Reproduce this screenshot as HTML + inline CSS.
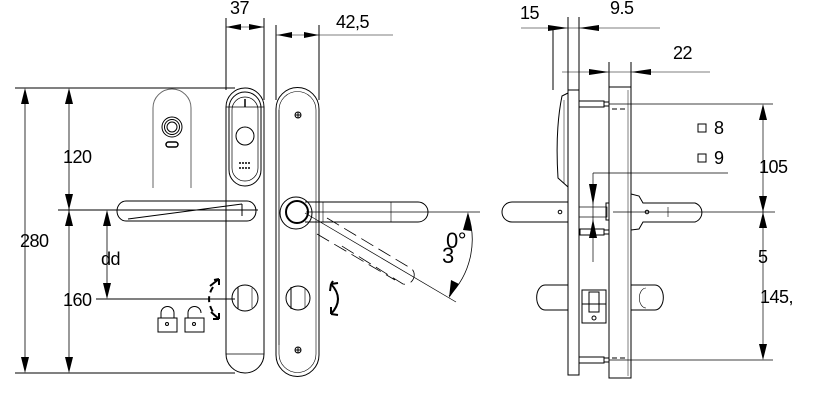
<!DOCTYPE html>
<html><head><meta charset="utf-8"><style>
html,body{margin:0;padding:0;background:#fff;}
svg{display:block;}
text{font-family:"Liberation Sans",Arial,sans-serif;fill:#000;}
</style></head><body>
<svg width="817" height="402" viewBox="0 0 817 402" xmlns="http://www.w3.org/2000/svg">
<g stroke="#000" stroke-width="1" fill="none">
<!-- left dims -->
<line x1="15" y1="88" x2="235" y2="88"/>
<line x1="15" y1="373" x2="235" y2="373"/>
<line x1="25" y1="90" x2="25" y2="371" stroke-width="0.8"/>
<line x1="69" y1="90" x2="69" y2="371" stroke-width="0.8"/>
<line x1="58" y1="210" x2="258" y2="210"/>
<line x1="107" y1="212" x2="107" y2="297" stroke-width="0.8"/>
<line x1="96" y1="299" x2="235" y2="299"/>
<!-- faded escutcheon -->
<path d="M153,188 V108 A18,18 0 0 1 191,108 V188" stroke="#666"/>
<circle cx="172" cy="127" r="10"/><circle cx="172" cy="127" r="7.5"/><circle cx="172" cy="127" r="5"/>
<rect x="166" y="142" width="12" height="5" rx="2.5" stroke-width="1.5"/>
<!-- plate 1 -->
<path d="M226,107 A19,19 0 0 1 264,107 V354 A19,19 0 0 1 226,354 Z"/>
<path d="M229,108 A16,16 0 0 1 261,108 V170 A16,16 0 0 1 229,170 Z"/>
<path d="M232,110 A13,13 0 0 1 258,110 V168 A13,13 0 0 1 232,168 Z" stroke-width="0.7"/>
<line x1="226" y1="107" x2="264" y2="107" stroke-width="0.7"/>
<line x1="226" y1="354" x2="264" y2="354" stroke-width="0.7"/>
<line x1="245" y1="99" x2="245" y2="107" stroke-width="1.5"/>
<circle cx="245" cy="136" r="9"/>
<line x1="239" y1="163" x2="251" y2="163" stroke-width="1.5" stroke-dasharray="2 1"/>
<line x1="239" y1="168" x2="251" y2="168" stroke-width="1.5" stroke-dasharray="2 1"/>
<!-- dim 37 -->
<line x1="226" y1="18" x2="226" y2="90"/>
<line x1="264" y1="18" x2="264" y2="100"/>
<line x1="226" y1="27" x2="264" y2="27" stroke-width="0.6"/>
<!-- handle 1 -->
<path d="M126,201 H247 A9,10 0 0 1 247,221 H126 A9,10 0 0 1 126,201 Z"/>
<line x1="128" y1="219" x2="242" y2="204"/>
<line x1="242" y1="204" x2="242" y2="216"/>
<!-- thumb turn 1 -->
<circle cx="245" cy="298" r="13"/>
<line x1="238" y1="287" x2="238" y2="309"/>
<line x1="252" y1="288" x2="252" y2="308" stroke-width="0.6"/>
<path d="M213,287 Q205,299 213,312" stroke-width="2" stroke-dasharray="6 4"/>
<path d="M210,286 L219,279 M219,279 L214,280 M219,279 L219,285" stroke-width="2"/>
<path d="M211,312 L219,319 M219,319 L219,313 M219,319 L213,319" stroke-width="2"/>
<!-- padlocks -->
<rect x="158" y="318" width="19" height="14"/><path d="M161,318 V313 A6,6 0 0 1 174,313 V318"/>
<rect x="185" y="318" width="19" height="14"/><path d="M188,318 V313 A6,6 0 0 1 201,313"/>
<circle cx="167" cy="324" r="1.5"/><circle cx="194" cy="324" r="1.5"/>
<!-- plate 2 -->
<path d="M276,109 A21,21 0 0 1 319,109 V355 A21,21 0 0 1 276,355 Z"/>
<path d="M279,110 A18,18 0 0 1 316,110 V354 A18,18 0 0 1 279,354 Z" stroke-width="0.6"/>
<line x1="279" y1="110" x2="279" y2="345" stroke-width="0.6"/>
<circle cx="298" cy="115" r="3"/><line x1="295" y1="115" x2="301" y2="115"/><line x1="298" y1="112" x2="298" y2="118"/>
<circle cx="298" cy="350" r="3"/><line x1="295" y1="350" x2="301" y2="350"/><line x1="298" y1="347" x2="298" y2="353"/>
<!-- dim 42,5 -->
<line x1="276" y1="25" x2="276" y2="100"/>
<line x1="319" y1="25" x2="319" y2="100"/>
<line x1="276" y1="35" x2="393" y2="35" stroke-width="0.6"/>
<!-- handle 2 -->
<circle cx="296" cy="213" r="16"/>
<circle cx="297" cy="212" r="11" stroke-width="2"/>
<path d="M305,202 H418 A10,10 0 0 1 418,222 H305"/>
<line x1="323" y1="202" x2="323" y2="222" stroke-width="0.6"/>
<line x1="391" y1="202" x2="391" y2="222" stroke-width="0.6"/>
<line x1="306" y1="212" x2="480" y2="212" stroke-width="0.7"/>
<line x1="305" y1="213" x2="456" y2="302" stroke-width="0.7"/>
<path d="M327,218 L407,266 A6,6 0 0 1 403,284 L337,243 M317,234 L395,280" stroke-dasharray="14 6" stroke-width="0.8"/>
<path d="M468,214 A80,80 0 0 1 449,296" stroke-width="0.8"/>
<circle cx="298" cy="298" r="12"/>
<line x1="291" y1="287" x2="291" y2="309"/>
<line x1="305" y1="288" x2="305" y2="308" stroke-width="0.6"/>
<path d="M331,284 Q345,299 331,314" stroke-width="2"/>
<path d="M331,284 L333,281 M331,284 L338,283 M331,284 L330,291" stroke-width="2"/>
<path d="M331,314 L338,315 M331,314 L331,307" stroke-width="2"/>

<!-- RIGHT VIEW -->
<line x1="568" y1="17" x2="568" y2="92"/>
<line x1="579" y1="17" x2="579" y2="92"/>
<line x1="521" y1="28" x2="660" y2="28" stroke-width="0.6"/>
<line x1="553" y1="28" x2="553" y2="90"/>
<line x1="562" y1="72" x2="710" y2="72" stroke-width="0.6"/>
<line x1="609" y1="62" x2="609" y2="90"/>
<line x1="631" y1="62" x2="631" y2="90"/>
<rect x="568" y="90" width="11" height="285"/>
<path d="M568,93 L562,96 Q555,130 558,178 L568,187"/>
<line x1="564" y1="100" x2="564" y2="183" stroke-width="0.5"/>
<rect x="609" y="87" width="22" height="291"/>
<line x1="628" y1="90" x2="628" y2="376" stroke-width="0.5"/>
<line x1="612" y1="109" x2="626" y2="109" stroke-dasharray="5 3"/>
<line x1="612" y1="358" x2="626" y2="358" stroke-dasharray="5 3"/>
<rect x="579" y="101" width="25" height="6"/><rect x="604" y="102" width="5" height="4"/>
<rect x="579" y="357" width="25" height="6"/><rect x="604" y="358" width="5" height="4"/>
<rect x="580" y="229" width="24" height="6"/><rect x="604" y="230" width="5" height="4"/>
<line x1="609" y1="104" x2="773" y2="104" stroke-width="0.7"/>
<line x1="609" y1="360" x2="773" y2="360" stroke-width="0.7"/>
<line x1="763" y1="106" x2="763" y2="358" stroke-width="0.7"/>
<line x1="613" y1="212" x2="775" y2="212" stroke-width="0.7"/>
<line x1="593" y1="173" x2="728" y2="173" stroke-width="0.7"/>
<line x1="593" y1="173" x2="593" y2="262" stroke-width="0.7"/>
<path d="M568,202 H512 A10,10 0 0 0 512,222 H568"/>
<circle cx="560" cy="212" r="1.8"/>
<rect x="579" y="207" width="28" height="10" stroke-width="0.7"/>
<rect x="606" y="203" width="3" height="17"/>
<path d="M631,194 L639,196 L643,203 H695 A10,10 0 0 1 695,222 H643 L639,229 L631,230"/>
<circle cx="647" cy="212" r="1.8"/>
<line x1="668" y1="207" x2="668" y2="217" stroke-width="0.6"/>
<path d="M568,285 H545 A8,12 0 0 0 545,310 H568"/>
<path d="M631,285 H655 A8,12 0 0 1 655,310 H631"/>
<path d="M646,288 A6,9 0 0 0 646,308" stroke-width="0.6"/>
<rect x="582" y="290" width="24" height="14"/>
<rect x="582" y="304" width="24" height="19"/>
<rect x="589" y="292" width="10" height="20"/>
<circle cx="594" cy="318" r="2"/>
<rect x="698" y="124" width="8" height="8"/>
<rect x="698" y="154" width="8" height="8"/>
</g>
<!-- arrowheads -->
<g fill="#000" stroke="none">
<path d="M25,88 L21,104 L29,104 Z"/><path d="M25,373 L21,357 L29,357 Z"/>
<path d="M69,88 L65,104 L73,104 Z"/><path d="M69,210 L65,194 L73,194 Z"/>
<path d="M69,210 L65,226 L73,226 Z"/><path d="M69,373 L65,357 L73,357 Z"/>
<path d="M107,210 L103,226 L111,226 Z"/><path d="M107,299 L103,283 L111,283 Z"/>
<path d="M226,27 L241,24 L241,30 Z"/><path d="M264,27 L249,24 L249,30 Z"/>
<path d="M277,35 L292,32 L292,38 Z"/><path d="M319,35 L304,32 L304,38 Z"/>
<path d="M468,212 L463,230 L472,231 Z"/>
<path d="M449,298 L451,280 L459,284 Z"/>
<path d="M568,28 L548,25 L548,31 Z"/><path d="M579,28 L599,25 L599,31 Z"/>
<path d="M609,72 L589,69 L589,75 Z"/><path d="M631,72 L651,69 L651,75 Z"/>
<path d="M763,104 L759,120 L767,120 Z"/><path d="M763,212 L759,196 L767,196 Z"/>
<path d="M763,212 L759,228 L767,228 Z"/><path d="M763,360 L759,344 L767,344 Z"/>
<path d="M589,184 L597,184 L593,205 Z"/>
<path d="M589,238 L597,238 L593,219 Z"/>
</g>
<g font-size="18" letter-spacing="-0.5">
<text x="230" y="14">37</text>
<text x="336" y="28">42,5</text>
<text x="63" y="163">120</text>
<text x="20" y="247">280</text>
<text x="101" y="265">dd</text>
<text x="63" y="306">160</text>
<text x="446" y="248" font-size="22">0°</text>
<text x="442" y="263" font-size="22">3</text>
<text x="520" y="19">15</text>
<text x="610" y="14">9.5</text>
<text x="673" y="59">22</text>
<text x="714" y="134">8</text>
<text x="714" y="164">9</text>
<text x="759" y="173">105</text>
<text x="758" y="263">5</text>
<text x="760" y="303">145,</text>
</g>
</svg>
</body></html>
